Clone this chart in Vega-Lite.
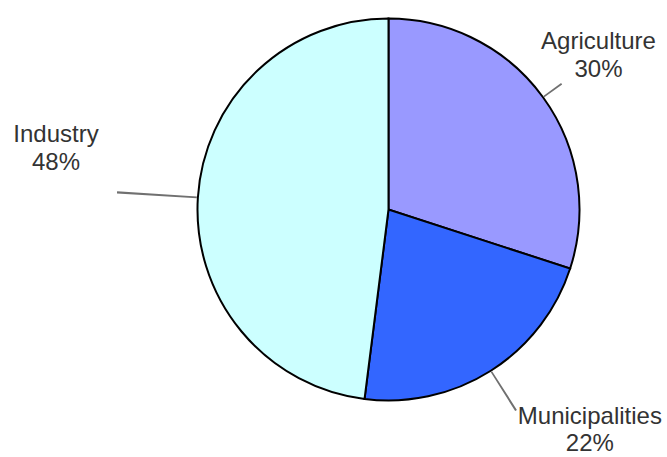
{
  "$schema": "https://vega.github.io/schema/vega-lite/v6.json",
  "width": 557,
  "height": 419,
  "autosize": {"type": "none"},
  "padding": {"left": 110, "top": 0, "right": 0, "bottom": 38},
  "background": "white",
  "view": {"stroke": null},
  "data": {
    "values": [
      {"Sector": "Agriculture", "Share": 30},
      {"Sector": "Municipalities", "Share": 22},
      {"Sector": "Industry", "Share": 48}
    ]
  },
  "transform": [
    {"calculate": "indexof(['Agriculture','Municipalities','Industry'], datum.Sector)", "as": "rank"},
    {"window": [{"op": "sum", "field": "Share", "as": "cum"}], "sort": [{"field": "rank"}], "frame": [null, 0]},
    {"calculate": "datum.cum - datum.Share / 2", "as": "mid"},
    {"calculate": "datum.mid - 0.07", "as": "lo"},
    {"calculate": "datum.mid + 0.07", "as": "hi"},
    {"calculate": "datum.Sector + '\\n' + datum.Share + '%'", "as": "label"}
  ],
  "layer": [
    {
      "mark": {"type": "arc", "outerRadius": 191, "stroke": "black", "strokeWidth": 2},
      "encoding": {
        "theta": {"field": "Share", "type": "quantitative", "stack": true, "scale": {"domain": [0, 100]}},
        "order": {"field": "rank", "type": "quantitative"},
        "color": {
          "field": "Sector",
          "type": "nominal",
          "scale": {"domain": ["Agriculture", "Municipalities", "Industry"], "range": ["#9999ff", "#3366ff", "#ccffff"]},
          "legend": null
        }
      }
    },
    {
      "transform": [{"filter": "datum.Sector == 'Agriculture'"}],
      "layer": [
        {
          "mark": {"type": "arc", "innerRadius": 192, "outerRadius": 214, "fill": "#707070"},
          "encoding": {
            "theta": {"field": "lo", "type": "quantitative", "stack": null},
            "theta2": {"field": "hi"}
          }
        },
        {
          "mark": {"type": "text", "radius": 262, "dx": -2, "dy": -14, "font": "Liberation Sans", "fontSize": 24, "lineHeight": 28, "fill": "#333333", "lineBreak": "\n", "baseline": "middle"},
          "encoding": {
            "theta": {"field": "mid", "type": "quantitative", "stack": null},
            "text": {"field": "label"}
          }
        }
      ]
    },
    {
      "transform": [{"filter": "datum.Sector == 'Municipalities'"}],
      "layer": [
        {
          "mark": {"type": "arc", "innerRadius": 192, "outerRadius": 238, "fill": "#707070"},
          "encoding": {
            "theta": {"field": "lo", "type": "quantitative", "stack": null},
            "theta2": {"field": "hi"}
          }
        },
        {
          "mark": {"type": "text", "radius": 262, "dx": 61, "dy": -14, "font": "Liberation Sans", "fontSize": 24, "lineHeight": 27, "fill": "#333333", "lineBreak": "\n", "baseline": "middle"},
          "encoding": {
            "theta": {"field": "mid", "type": "quantitative", "stack": null},
            "text": {"field": "label"}
          }
        }
      ]
    },
    {
      "transform": [{"filter": "datum.Sector == 'Industry'"}],
      "layer": [
        {
          "mark": {"type": "arc", "innerRadius": 192, "outerRadius": 272, "fill": "#707070"},
          "encoding": {
            "theta": {"field": "lo", "type": "quantitative", "stack": null},
            "theta2": {"field": "hi"}
          }
        },
        {
          "mark": {"type": "text", "radius": 262, "dx": -71, "dy": -58, "font": "Liberation Sans", "fontSize": 24, "lineHeight": 28, "fill": "#333333", "lineBreak": "\n", "baseline": "middle"},
          "encoding": {
            "theta": {"field": "mid", "type": "quantitative", "stack": null},
            "text": {"field": "label"}
          }
        }
      ]
    }
  ]
}
